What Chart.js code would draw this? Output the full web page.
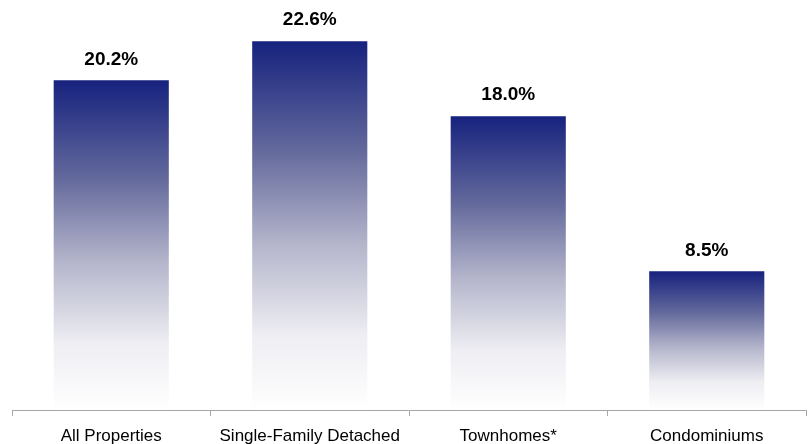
<!DOCTYPE html>
<html>
<head>
<meta charset="utf-8">
<script src="https://cdn.jsdelivr.net/npm/chart.js@4/dist/chart.umd.min.js"></script>
<style>
html,body{margin:0;padding:0;background:#fff;overflow:hidden;}
canvas{display:block;}
</style>
</head>
<body>
<canvas id="c" width="810" height="444" style="width:810px;height:444px;"></canvas>
<script>
const categories = ["All Properties", "Single-Family Detached", "Townhomes*", "Condominiums"];
const values = [20.2, 22.6, 18.0, 8.5];
const valueLabels = ["20.2%", "22.6%", "18.0%", "8.5%"];

function barGradient(ctx) {
  const chart = ctx.chart;
  const {chartArea, scales} = chart;
  if (!chartArea || ctx.dataIndex === undefined) return 'rgb(22,34,126)';
  const v = ctx.dataset.data[ctx.dataIndex];
  const top = scales.y.getPixelForValue(v);
  const bottom = scales.y.getPixelForValue(0);
  const g = chart.ctx.createLinearGradient(0, top, 0, bottom);
  g.addColorStop(0, 'rgb(22,34,126)');
  g.addColorStop(0.3, 'rgb(100,106,156)');
  g.addColorStop(0.55, 'rgb(180,181,203)');
  g.addColorStop(0.8, 'rgb(238,238,243)');
  g.addColorStop(1, 'rgb(255,255,255)');
  return g;
}

const labelPlugin = {
  id: 'valueLabels',
  afterDatasetsDraw(chart) {
    const c = chart.ctx;
    const meta = chart.getDatasetMeta(0);
    c.save();
    c.font = 'bold 19px "Liberation Sans", Arial, sans-serif';
    c.fillStyle = '#000';
    c.textAlign = 'center';
    c.textBaseline = 'middle';
    meta.data.forEach((bar, i) => {
      c.fillText(valueLabels[i], bar.x, bar.y - 21);
    });
    c.restore();
  }
};

new Chart(document.getElementById('c'), {
  type: 'bar',
  data: {
    labels: categories,
    datasets: [{
      data: values,
      backgroundColor: barGradient,
      borderWidth: 0,
      categoryPercentage: 1.0,
      barPercentage: 0.58
    }]
  },
  options: {
    responsive: false,
    maintainAspectRatio: false,
    animation: false,
    devicePixelRatio: 1,
    layout: { padding: { left: 12, right: 4, top: 2, bottom: 0 } },
    plugins: { legend: { display: false }, tooltip: { enabled: false } },
    scales: {
      x: {
        afterFit(scale) { scale.height = 34; },
        grid: { display: true, offset: true, drawOnChartArea: false, drawTicks: true, tickLength: 6, color: '#a6a6a6', lineWidth: 1 },
        border: { display: true, color: '#a6a6a6', width: 1 },
        ticks: { color: '#000', padding: 10, font: { family: '"Liberation Sans", Arial, sans-serif', size: 17 }, maxRotation: 0 }
      },
      y: {
        display: false,
        min: 0,
        max: 25
      }
    }
  },
  plugins: [labelPlugin]
});
</script>
</body>
</html>
